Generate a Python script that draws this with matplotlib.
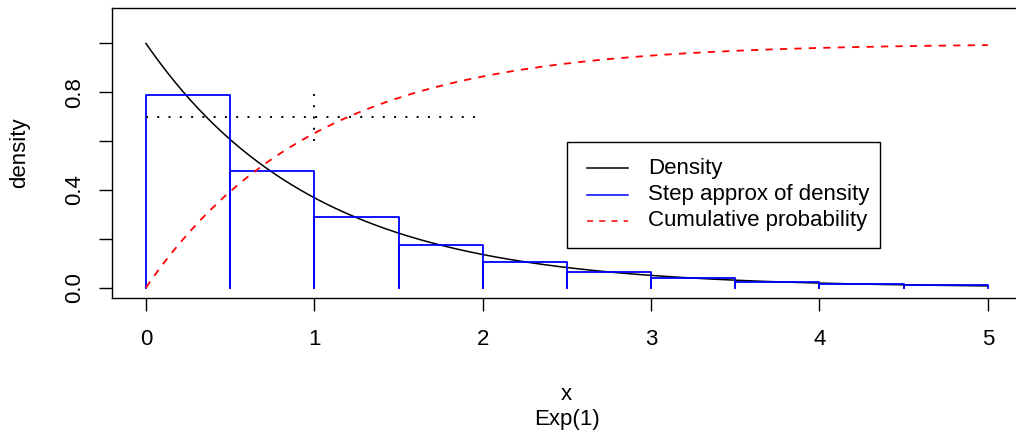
import numpy as np
import matplotlib
matplotlib.use('Agg')
import matplotlib.pyplot as plt
from matplotlib.patches import Rectangle
from matplotlib.lines import Line2D

plt.rcParams['font.family'] = ['Liberation Sans', 'DejaVu Sans']

# step approximation of the Exp(1) density, bins of width 0.5
bin_edges = [0.0, 0.5, 1.0, 1.5, 2.0, 2.5, 3.0, 3.5, 4.0, 4.5, 5.0]
step_heights = [0.787, 0.477, 0.289, 0.176, 0.106, 0.065, 0.039, 0.024, 0.014, 0.009]

# smooth curves: Exp(1) density and cumulative probability
x = np.linspace(0, 5, 301)
density = np.exp(-x)
cumulative = 1 - np.exp(-x)

xticks = [0, 1, 2, 3, 4, 5]
yticks = [0.0, 0.2, 0.4, 0.6, 0.8, 1.0]
ytick_labels = ['0.0', '', '0.4', '', '0.8', '']

legend_labels = ['Density', 'Step approx of density', 'Cumulative probability']

W, H = 1016, 436
fig = plt.figure(figsize=(W / 100, H / 100), dpi=100)
ax = fig.add_axes([112.3 / W, 1 - 298.3 / H, (1021.5 - 112.3) / W, (298.3 - 8.3) / H])

fs = 16
lw = 1.3

ax.plot(x, density, color='black', lw=1.1)
for i, h in enumerate(step_heights):
    x0, x1 = bin_edges[i], bin_edges[i + 1]
    ax.plot([x0, x0, x1, x1], [0, h, h, 0], color='blue', lw=lw)
ax.plot(x, cumulative, color='red', lw=lw, linestyle=(0, (4, 4)))

# dotted guide lines
ax.plot([0, 2], [0.7, 0.7], color='black', lw=1.4, linestyle=(0, (1, 4.8)))
ax.plot([1, 1], [0.6, 0.8], color='black', lw=1.4, linestyle=(0, (1, 4.8)))

ax.set_xlim(-0.2, 5.2)
ax.set_ylim(-0.044, 1.144)
ax.set_xticks(xticks)
ax.set_xticklabels([str(t) for t in xticks])
ax.set_yticks(yticks)
ax.set_yticklabels(ytick_labels)
ax.tick_params(axis='both', direction='out', length=9.5, width=1.0, labelsize=fs, color='black')
ax.tick_params(axis='x', pad=12.5)
ax.tick_params(axis='y', pad=10)
plt.setp(ax.get_yticklabels(), rotation=90, va='center')
for s in ax.spines.values():
    s.set_linewidth(1.0)

fig.text(566.5 / W, 1 - 394 / H, 'x', ha='center', va='center', fontsize=fs)
fig.text(566.5 / W, 1 - 419 / H, 'Exp(1)', ha='center', va='center', fontsize=fs)
fig.text(20 / W, 1 - 153 / H, 'density', ha='center', va='center', rotation=90, fontsize=fs)

# legend box
fig.patches.append(Rectangle((566.7 / W, 1 - 248.3 / H), (880 - 566.7) / W, (248.3 - 141.7) / H,
                             transform=fig.transFigure, facecolor='white', edgecolor='black',
                             lw=1.0, zorder=5))
styles = [('black', '-'), ('blue', '-'), ('red', (0, (4, 4)))]
rows = [168.3, 194.5, 220.8]
for (c, ls), label, ry in zip(styles, legend_labels, rows):
    fig.lines.append(Line2D([586.7 / W, 627.7 / W], [1 - ry / H, 1 - ry / H], color=c,
                            linestyle=ls, lw=1.1, transform=fig.transFigure, zorder=6))
    fig.text(648.3 / W, 1 - ry / H, label, ha='left', va='center', fontsize=fs, zorder=6)

fig.savefig('out.png', dpi=100)
